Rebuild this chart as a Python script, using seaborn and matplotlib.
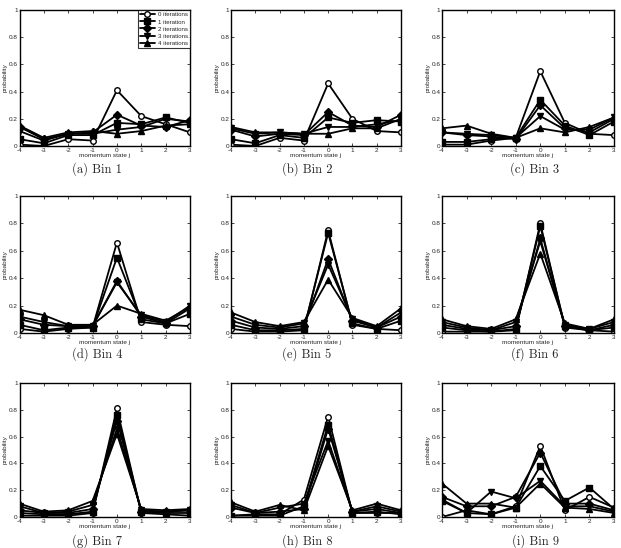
import numpy as np
import pandas as pd
import matplotlib
matplotlib.use("Agg")
import matplotlib.pyplot as plt
import seaborn as sns

states = [-4, -3, -2, -1, 0, 1, 2, 3]
series_labels = ["0 iterations", "1 iteration", "2 iterations", "3 iterations", "4 iterations"]
bin_titles = ["(a) Bin 1", "(b) Bin 2", "(c) Bin 3", "(d) Bin 4", "(e) Bin 5",
              "(f) Bin 6", "(g) Bin 7", "(h) Bin 8", "(i) Bin 9"]
y_ticks = [0, 0.2, 0.4, 0.6, 0.8, 1]
y_tick_labels = ["0", "0.2", "0.4", "0.6", "0.8", "1"]

bin1 = [[0.01, 0.00, 0.05, 0.04, 0.41, 0.22, 0.16, 0.10],
        [0.05, 0.02, 0.08, 0.08, 0.17, 0.16, 0.21, 0.17],
        [0.14, 0.05, 0.09, 0.10, 0.23, 0.15, 0.14, 0.19],
        [0.11, 0.04, 0.09, 0.09, 0.12, 0.14, 0.20, 0.18],
        [0.15, 0.06, 0.10, 0.11, 0.09, 0.11, 0.15, 0.16]]
bin2 = [[0.01, 0.00, 0.06, 0.04, 0.46, 0.20, 0.11, 0.10],
        [0.05, 0.02, 0.08, 0.06, 0.21, 0.17, 0.19, 0.18],
        [0.12, 0.07, 0.09, 0.08, 0.25, 0.15, 0.14, 0.23],
        [0.13, 0.09, 0.10, 0.09, 0.14, 0.14, 0.16, 0.19],
        [0.14, 0.10, 0.10, 0.09, 0.09, 0.13, 0.13, 0.20]]
bin3 = [[0.01, 0.01, 0.04, 0.06, 0.55, 0.17, 0.09, 0.08],
        [0.03, 0.03, 0.05, 0.06, 0.34, 0.15, 0.08, 0.18],
        [0.10, 0.08, 0.07, 0.05, 0.30, 0.13, 0.10, 0.20],
        [0.10, 0.09, 0.08, 0.06, 0.22, 0.12, 0.12, 0.21],
        [0.13, 0.15, 0.09, 0.06, 0.13, 0.10, 0.14, 0.21]]
bin4 = [[0.03, 0.01, 0.03, 0.04, 0.66, 0.08, 0.06, 0.05],
        [0.06, 0.02, 0.04, 0.04, 0.55, 0.10, 0.07, 0.14],
        [0.10, 0.06, 0.05, 0.05, 0.38, 0.12, 0.07, 0.18],
        [0.12, 0.08, 0.05, 0.05, 0.37, 0.13, 0.08, 0.20],
        [0.17, 0.13, 0.06, 0.06, 0.20, 0.14, 0.09, 0.19]]
bin5 = [[0.03, 0.01, 0.01, 0.02, 0.75, 0.06, 0.03, 0.02],
        [0.06, 0.02, 0.02, 0.03, 0.73, 0.07, 0.03, 0.09],
        [0.09, 0.04, 0.03, 0.05, 0.54, 0.09, 0.04, 0.12],
        [0.12, 0.06, 0.04, 0.07, 0.50, 0.10, 0.04, 0.15],
        [0.15, 0.08, 0.05, 0.08, 0.39, 0.11, 0.05, 0.18]]
bin6 = [[0.01, 0.01, 0.01, 0.02, 0.80, 0.04, 0.02, 0.01],
        [0.04, 0.02, 0.01, 0.03, 0.78, 0.05, 0.02, 0.04],
        [0.06, 0.03, 0.02, 0.05, 0.69, 0.05, 0.02, 0.06],
        [0.08, 0.04, 0.02, 0.08, 0.67, 0.06, 0.03, 0.08],
        [0.10, 0.05, 0.03, 0.10, 0.58, 0.07, 0.03, 0.10]]
bin7 = [[0.01, 0.01, 0.01, 0.03, 0.81, 0.03, 0.02, 0.01],
        [0.03, 0.02, 0.02, 0.04, 0.76, 0.04, 0.03, 0.03],
        [0.05, 0.03, 0.03, 0.06, 0.72, 0.04, 0.04, 0.05],
        [0.08, 0.03, 0.04, 0.09, 0.66, 0.05, 0.04, 0.05],
        [0.10, 0.04, 0.05, 0.12, 0.62, 0.06, 0.05, 0.06]]
bin8 = [[0.01, 0.02, 0.02, 0.13, 0.75, 0.03, 0.03, 0.03],
        [0.01, 0.01, 0.01, 0.08, 0.69, 0.03, 0.04, 0.02],
        [0.07, 0.03, 0.04, 0.06, 0.66, 0.04, 0.06, 0.03],
        [0.09, 0.03, 0.07, 0.10, 0.57, 0.04, 0.08, 0.04],
        [0.11, 0.04, 0.09, 0.05, 0.53, 0.05, 0.10, 0.05]]
bin9 = [[0.00, 0.05, 0.02, 0.08, 0.53, 0.05, 0.15, 0.07],
        [0.12, 0.03, 0.02, 0.07, 0.38, 0.12, 0.22, 0.06],
        [0.15, 0.08, 0.08, 0.15, 0.48, 0.10, 0.10, 0.05],
        [0.13, 0.03, 0.19, 0.14, 0.27, 0.08, 0.08, 0.04],
        [0.25, 0.10, 0.10, 0.07, 0.25, 0.07, 0.06, 0.03]]
bins = [bin1, bin2, bin3, bin4, bin5, bin6, bin7, bin8, bin9]

sns.set_style("ticks")
plt.rcParams["font.family"] = ["Liberation Sans", "DejaVu Sans"]
plt.rcParams["axes.unicode_minus"] = False

W, H = 621, 548
fig = plt.figure(figsize=(W / 100, H / 100), dpi=100)

col_lr = [(19.5, 190), (231, 401), (442, 614)]
row_tb = [(10, 146), (196, 333), (383, 517)]
cap_x = [97, 307, 535]
cap_y = [169, 354, 541]

markers = ["o", "s", "D", "v", "^"]
faces = ["white", "black", "black", "black", "black"]

for i, data in enumerate(bins):
    r, c = divmod(i, 3)
    l, rr = col_lr[c]
    t, b = row_tb[r]
    ax = fig.add_axes([l / W, 1 - b / H, (rr - l) / W, (b - t) / H])
    for k in range(5):
        df = pd.DataFrame({"j": states, "p": data[k]})
        sns.lineplot(data=df, x="j", y="p", ax=ax, color="black", linewidth=1.3,
                     marker=markers[k], markersize=4.0, markerfacecolor=faces[k],
                     markeredgecolor="black", markeredgewidth=1.0,
                     label=series_labels[k], legend=False)
    ax.set_xlim(-4, 3)
    ax.set_ylim(0, 1)
    ax.set_xticks(states)
    ax.set_xticklabels([str(s) for s in states])
    ax.set_yticks(y_ticks)
    ax.set_yticklabels(y_tick_labels)
    ax.tick_params(direction="in", length=2.5, width=0.6, labelsize=4.6, pad=1.2,
                   top=True, right=True)
    ax.set_xlabel("momentum state j", fontsize=4.6, labelpad=0.3)
    ax.set_ylabel("probability", fontsize=4.6, labelpad=0.5)
    for sp in ax.spines.values():
        sp.set_linewidth(1.0)
        sp.set_color("black")
        sp.set_visible(True)
    if i == 0:
        leg = ax.legend(loc="upper right", fontsize=4.4, frameon=True, fancybox=False,
                        borderpad=0.35, labelspacing=0.3, handlelength=2.4,
                        handletextpad=0.5, borderaxespad=0.0)
        leg.get_frame().set_edgecolor("black")
        leg.get_frame().set_linewidth(0.8)
    fig.text(cap_x[c] / W, 1 - cap_y[r] / H, bin_titles[i], ha="center", va="center",
             fontsize=9, family=["cmr10", "DejaVu Serif"])

fig.savefig("out.png", dpi=100)
